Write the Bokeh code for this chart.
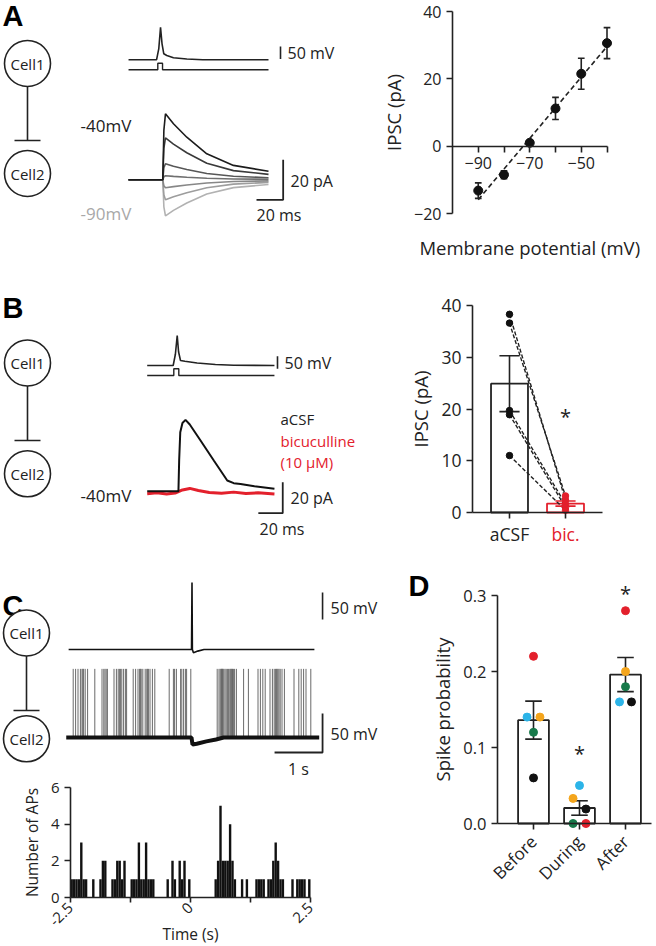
from bokeh.plotting import figure
from bokeh.models import Range1d, FixedTicker, NumeralTickFormatter
from bokeh.layouts import row, column
from bokeh.embed import file_html
from bokeh.resources import INLINE
from bokeh.core.properties import value

FONT = "Open Sans"
BOLD = "Liberation Sans"
INK = "#222222"
RED = "#e3202c"

# ---------------- data ----------------
# Panel A: I-V relation
IV_VM = [-90, -80, -70, -60, -50, -40]
IV_MEAN = [-13.2, -8.5, 1.0, 11.2, 21.5, 30.6]
IV_SEM = [2.3, 1.2, 0.6, 3.3, 4.6, 4.6]
IV_FIT_X = [-90, -40]
IV_FIT_Y = [-15.9, 29.6]

# Panel A: example traces (ms / mV / pA)
A_SPIKE_T = [-25.7, -4.7, -3.0, -1.7, -0.6, 0.75, 3, 8, 18, 30, 79.3]
A_SPIKE_V = [-65, -65, -20, 65, 0, -41, -48, -57, -62, -65, -65]
A_STEP_T = [-25.7, -3.75, -3.75, -0.2, -0.2, 79.3]
A_STEP_V = [-105, -105, -78.6, -78.6, -105, -105]
A_IPSC_AMP = [33, 21, 8, 2, -4, -10, -18]
A_IPSC_T = [-25.7, 0, 0.8, 2.0, 8, 18, 33, 53, 79.3]
A_IPSC_SHAPE = [0, 0, 0.75, 1, 0.85, 0.645, 0.394, 0.218, 0.13]
A_COLORS = ["#1c1c1c", "#3a3a3a", "#575757", "#707070", "#878787", "#9d9d9d", "#b2b2b2"]

# Panel B: example traces
B_SPIKE_T = [-25.9, -4.6, -2.8, -1.3, -0.2, 1.4, 5, 15, 30, 45, 78.4]
B_SPIKE_V = [-65, -65, -20, 55, -10, -45, -48, -55, -61, -64, -65]
B_STEP_T = [-25.9, -4.1, -4.1, 0, 0, 78.4]
B_STEP_V = [-105, -105, -78.2, -78.2, -105, -105]
B_ACSF_T = [-25.9, -0.3, 0.3, 1.2, 3, 5.5, 9, 17.8, 28.7, 39.7, 45, 50.6, 62, 78.4]
B_ACSF_I = [0, 0, 20, 38, 44, 46, 43, 32.7, 19.8, 6.9, 5.2, 4.7, 3.2, 1.6]
B_BIC_T = [-25.9, -18, -10, -3, 3, 9, 16, 25, 35, 45, 55, 65, 78.4]
B_BIC_I = [-1.6, -1.0, -1.8, -1.2, 0.8, 1.8, 0.5, -0.8, -1.3, -0.6, -1.5, -1.0, -1.8]

# Panel B: IPSC amplitude, paired cells
B_GROUPS = ["aCSF", "bic."]
B_ACSF = [38.3, 36.6, 19.7, 18.9, 11.0]
B_BIC = [2.4, 3.2, 1.6, 1.0, 0.45]
B_SEM = [5.4, 0.5]

# Panel C: traces (s / mV)
C1_T = [-2.57, -0.01, 0.0, 0.008, 0.03, 0.12, 0.25, 2.55]
C1_V = [-60, -60, 64, -60, -66, -63, -60, -60]
C2_T = [-2.62, -0.01, 0.01, 0.1, 0.3, 0.5, 0.66, 2.65]
C2_V = [-60, -60, -69, -68, -65, -62.5, -60, -60]
C2_SPIKE_PEAK = 28

# Panel C: peri-stimulus histogram, 0.05 s bins from -2.5 s
HIST_START = -2.5
HIST_BIN = 0.05
HIST_COUNTS = [1, 1, 1, 1, 3, 1, 1, 0, 0, 1,
               0, 0, 1, 2, 2, 0, 0, 1, 1, 2,
               2, 1, 2, 0, 0, 1, 1, 1, 3, 1,
               1, 3, 1, 1, 1, 0, 0, 0, 0, 0,
               1, 0, 2, 1, 0, 2, 1, 2, 0, 1,
               0, 0, 0, 0, 0, 0, 0, 0, 0, 0,
               1, 2, 5, 2, 2, 2, 4, 2, 1, 0,
               0, 1, 0, 1, 0, 0, 0, 1, 1, 1,
               1, 0, 1, 1, 2, 3, 2, 1, 1, 0,
               0, 0, 1, 0, 1, 1, 1, 1, 0, 1]
HIST_TICKS = [-2.5, -1.25, 0, 1.25, 2.5]

# Panel D: spike probability (cells: red, cyan, orange, green, black)
D_GROUPS = ["Before", "During", "After"]
D_CELL_COLORS = ["#e3202c", "#2cb4e8", "#f4a51c", "#17794a", "#111111"]
D_BEFORE = [0.22, 0.14, 0.14, 0.12, 0.06]
D_DURING = [0.0, 0.05, 0.033, 0.0, 0.019]
D_AFTER = [0.28, 0.16, 0.20, 0.18, 0.16]
D_SEM = [0.025, 0.0095, 0.0225]
D_JITTER = [[0, -0.14, 0.14, 0, 0],
            [0.14, 0, -0.14, -0.14, 0.14],
            [0, -0.13, 0, 0, 0.13]]


# ---------------- helpers ----------------
def xspan(p0, p1, anchor_px, anchor_val, ppu):
    return Range1d(anchor_val - (anchor_px - p0) / ppu, anchor_val + (p1 - anchor_px) / ppu)


def yspan(p0, p1, anchor_px, anchor_val, ppu):
    # p0 = top pixel row, p1 = bottom pixel row (page y grows downward)
    return Range1d(anchor_val - (p1 - anchor_px) / ppu, anchor_val + (anchor_px - p0) / ppu)


def base_fig(x0, x1, y0, y1, xr, yr, axes=False):
    kw = {} if axes else dict(x_axis_type=None, y_axis_type=None)
    p = figure(width=x1 - x0, height=y1 - y0, x_range=xr, y_range=yr,
               toolbar_location=None, output_backend="svg",
               min_border=0, outline_line_color=None, **kw)
    p.min_border_left = p.min_border_right = p.min_border_top = p.min_border_bottom = 0
    if axes:
        p.grid.visible = False
    return p


def canvas(x0, x1, y0, y1):
    # page-pixel canvas (y downward)
    return base_fig(x0, x1, y0, y1, Range1d(x0, x1), Range1d(y1, y0))


def x_extra(p, ppu, px0, v0):
    r = p.x_range
    return Range1d(v0 - (px0 - r.start) / ppu, v0 + (r.end - px0) / ppu)


def y_extra(p, ppu, px0, v0):
    r = p.y_range
    return Range1d(v0 - (r.start - px0) / ppu, v0 + (px0 - r.end) / ppu)


def txt(p, x, y, s, size, color=INK, align="left", font=FONT, style="normal", angle=0):
    p.text(x=[x], y=[y], text=[s], text_font=value(font),
           text_font_size=f"{size}px", text_color=color, angle=angle,
           text_align=align, text_baseline="middle", text_font_style=style)


def schematic(p, cx, cy1, cy2, bar_y, r=23):
    p.line([cx, cx], [cy1 + r, bar_y], line_color=INK, line_width=1.6)
    p.line([cx - 13, cx + 13], [bar_y, bar_y], line_color=INK, line_width=1.6)
    p.circle(x=[cx, cx], y=[cy1, cy2], radius=r, fill_color="white",
             line_color=INK, line_width=1.6)
    txt(p, cx, cy1, "Cell1", 15, align="center")
    txt(p, cx, cy2, "Cell2", 15, align="center")


def style_axes(p, tick_size, label_size):
    for ax in p.axis:
        ax.axis_line_color = INK
        ax.axis_line_width = 1.6
        ax.major_tick_line_color = INK
        ax.major_tick_line_width = 1.6
        ax.major_tick_in = 0
        ax.major_tick_out = 6
        ax.minor_tick_line_color = None
        ax.major_label_text_font = FONT
        ax.major_label_text_font_size = f"{tick_size}px"
        ax.major_label_text_color = INK
        ax.axis_label_text_font = FONT
        ax.axis_label_text_font_size = f"{label_size}px"
        ax.axis_label_text_font_style = "normal"
        ax.axis_label_text_color = INK


def errorbars(p, xs, lo, hi, cap, color=INK, width=1.6):
    p.segment(x0=xs, y0=lo, x1=xs, y1=hi, line_color=color, line_width=width)
    p.segment(x0=[x - cap for x in xs], y0=lo, x1=[x + cap for x in xs], y1=lo,
              line_color=color, line_width=width)
    p.segment(x0=[x - cap for x in xs], y0=hi, x1=[x + cap for x in xs], y1=hi,
              line_color=color, line_width=width)


def mean(v):
    return sum(v) / len(v)


# ---------------- Panel A left ----------------
a1 = canvas(0, 378, 0, 290)
a1.extra_x_ranges = {"ms": x_extra(a1, 1.333, 162.3, 0)}
a1.extra_y_ranges = {"mv": y_extra(a1, 0.25, 59.3, -65), "pa": y_extra(a1, 2.0, 179.3, 0)}
txt(a1, 2, 15, "A", 29, font=BOLD, style="bold", color="#000")
schematic(a1, 27, 63, 173, 140)
a1.line(A_SPIKE_T, A_SPIKE_V, x_range_name="ms", y_range_name="mv", line_color=INK, line_width=1.6)
a1.line(A_STEP_T, A_STEP_V, x_range_name="ms", y_range_name="mv", line_color=INK, line_width=1.4)
for amp, col in reversed(list(zip(A_IPSC_AMP, A_COLORS))):
    a1.line(A_IPSC_T, [amp * s for s in A_IPSC_SHAPE], x_range_name="ms", y_range_name="pa",
            line_color=col, line_width=1.6)
a1.line([88.3, 88.3], [-62, -12], x_range_name="ms", y_range_name="mv", line_color=INK, line_width=1.6)
a1.line([70.3, 90.3, 90.3], [-10, -10, 10], x_range_name="ms", y_range_name="pa", line_color=INK, line_width=1.8)
txt(a1, 287, 52, "50 mV", 16)
txt(a1, 290, 180, "20 pA", 16)
txt(a1, 256, 214, "20 ms", 16)
txt(a1, 80, 125, "-40mV", 17)
txt(a1, 80, 213, "-90mV", 17, color="#a8a8a8")

# ---------------- Panel A right: I-V ----------------
a2 = base_fig(378, 656, 0, 290, xspan(378, 656, 452, -100, 2.575),
              yspan(0, 290, 213, -20, 3.3667), axes=True)
a2.line(IV_FIT_X, IV_FIT_Y, line_color=INK, line_width=1.6, line_dash="5 3")
errorbars(a2, IV_VM, [m - s for m, s in zip(IV_MEAN, IV_SEM)],
          [m + s for m, s in zip(IV_MEAN, IV_SEM)], 1.3)
a2.scatter(IV_VM, IV_MEAN, size=9, color="#111111")
a2.xaxis.fixed_location = 0
a2.xaxis.bounds = (-100, -40)
a2.xaxis.ticker = FixedTicker(ticks=IV_VM)
a2.xaxis.major_label_overrides = {-80: "", -60: "", -40: ""}
a2.yaxis.fixed_location = -100
a2.yaxis.bounds = (-20, 40)
a2.yaxis.ticker = FixedTicker(ticks=[-20, 0, 20, 40])
a2.yaxis.axis_label = "IPSC (pA)"
style_axes(a2, 16, 18.5)
txt(a2, -70, -30.1, "Membrane potential (mV)", 18.5, align="center")

# ---------------- Panel B left ----------------
b1 = canvas(0, 378, 290, 560)
b1.extra_x_ranges = {"ms": x_extra(b1, 1.22, 178.3, 0)}
b1.extra_y_ranges = {"mv": y_extra(b1, 0.25, 365, -65), "pa": y_extra(b1, 1.55, 490.7, 0)}
txt(b1, 2, 307, "B", 29, font=BOLD, style="bold", color="#000")
schematic(b1, 27, 362.5, 473.3, 440)
b1.line(B_SPIKE_T, B_SPIKE_V, x_range_name="ms", y_range_name="mv", line_color=INK, line_width=1.6)
b1.line(B_STEP_T, B_STEP_V, x_range_name="ms", y_range_name="mv", line_color=INK, line_width=1.4)
b1.line(B_BIC_T, B_BIC_I, x_range_name="ms", y_range_name="pa", line_color=RED, line_width=3)
b1.line(B_ACSF_T, B_ACSF_I, x_range_name="ms", y_range_name="pa", line_color="#111111", line_width=2)
b1.line([80.9, 80.9], [-78, -28], x_range_name="ms", y_range_name="mv", line_color=INK, line_width=1.6)
b1.line([65.2, 85.2, 85.2], [-14.2, -14.2, 5.8], x_range_name="ms", y_range_name="pa", line_color=INK, line_width=1.8)
txt(b1, 284, 362, "50 mV", 16)
txt(b1, 290, 497, "20 pA", 16)
txt(b1, 259, 528, "20 ms", 16)
txt(b1, 80, 495, "-40mV", 17)
txt(b1, 280, 418, "aCSF", 15)
txt(b1, 280, 440, "bicuculline", 15, color=RED)
txt(b1, 280, 461, "(10 \u00b5M)", 15, color=RED)

# ---------------- Panel B right: bars ----------------
b2 = base_fig(378, 656, 290, 560, xspan(378, 656, 509, 1, 56),
              yspan(290, 560, 512, 0, 5.175), axes=True)
b_means = [mean(B_ACSF), mean(B_BIC)]
b2.vbar(x=[1], top=[b_means[0]], bottom=0, width=0.66, fill_color="white",
        line_color=INK, line_width=1.8)
b2.vbar(x=[2], top=[b_means[1]], bottom=0, width=0.66, fill_color="white",
        line_color=RED, line_width=1.8)
for a, b in zip(B_ACSF, B_BIC):
    b2.line([1, 2], [a, b], line_color=INK, line_width=1.4, line_dash="4 2")
errorbars(b2, [1], [b_means[0] - B_SEM[0]], [b_means[0] + B_SEM[0]], 0.18)
errorbars(b2, [2], [b_means[1] - B_SEM[1]], [b_means[1] + B_SEM[1]], 0.18, color=RED)
b2.scatter([1] * len(B_ACSF), B_ACSF, size=6.5, color="#111111")
b2.scatter([2] * len(B_BIC), B_BIC, size=6.5, color=RED)
b2.xaxis.fixed_location = 0
b2.xaxis.bounds = (0.339, 2.661)
b2.xaxis.ticker = FixedTicker(ticks=[1, 2])
b2.xaxis.major_label_overrides = {1: " ", 2: " "}
b2.yaxis.fixed_location = 0.339
b2.yaxis.ticker = FixedTicker(ticks=[0, 10, 20, 30, 40])
b2.yaxis.bounds = (0, 40)
b2.yaxis.axis_label = "IPSC (pA)"
style_axes(b2, 17.5, 18.5)
txt(b2, 1, -4.1, B_GROUPS[0], 17.5, align="center")
txt(b2, 2, -4.1, B_GROUPS[1], 17.5, color=RED, align="center")
txt(b2, 2, 18.5, "*", 20, align="center")

# ---------------- Panel C traces ----------------
c1 = canvas(0, 400, 560, 778)
c1.extra_x_ranges = {"sec": x_extra(c1, 48, 191.5, 0)}
c1.extra_y_ranges = {"v1": y_extra(c1, 0.54, 649, -60), "v2": y_extra(c1, 0.78, 737, -60)}
txt(c1, 2, 605, "C", 29, font=BOLD, style="bold", color="#000")
schematic(c1, 26, 632.5, 738.3, 710)
spike_t = []
for i, c in enumerate(HIST_COUNTS):
    for k in range(c):
        spike_t.append(HIST_START + HIST_BIN * (i + (k + 0.5) / c))
c1.segment(x0=spike_t, y0=[-60] * len(spike_t), x1=spike_t, y1=[C2_SPIKE_PEAK] * len(spike_t),
           x_range_name="sec", y_range_name="v2", line_color="#6a6a6a", line_width=1)
c1.line(C2_T, C2_V, x_range_name="sec", y_range_name="v2", line_color="#111111", line_width=4)
c1.line(C1_T, C1_V, x_range_name="sec", y_range_name="v1", line_color="#111111", line_width=1.6)
c1.line([2.72, 2.72], [-4.4, 45.6], x_range_name="sec", y_range_name="v1", line_color=INK, line_width=1.6)
c1.line([1.72, 2.72, 2.72], [-79.2, -79.2, -29.2], x_range_name="sec", y_range_name="v2",
        line_color=INK, line_width=1.8)
txt(c1, 330, 607, "50 mV", 16)
txt(c1, 330, 733, "50 mV", 16)
txt(c1, 298, 768, "1 s", 16, align="center")

# ---------------- Panel C histogram ----------------
c2 = base_fig(0, 400, 778, 946, xspan(0, 400, 70, -2.5, 48),
              yspan(778, 946, 897, 0, 18.33), axes=True)
edges = [HIST_START + HIST_BIN * i for i in range(len(HIST_COUNTS) + 1)]
c2.quad(left=edges[:-1], right=edges[1:], bottom=0, top=HIST_COUNTS,
        fill_color="#111111", line_color=None)
c2.xaxis.fixed_location = 0
c2.xaxis.bounds = (-2.5, 2.5)
c2.xaxis.ticker = FixedTicker(ticks=HIST_TICKS)
c2.xaxis.major_label_overrides = {-2.5: "-2.5", -1.25: "", 0: "0", 1.25: "", 2.5: "2.5"}
c2.xaxis.major_label_orientation = 0.785
c2.yaxis.fixed_location = -2.5
c2.yaxis.bounds = (0, 6)
c2.yaxis.ticker = FixedTicker(ticks=[0, 2, 4, 6])
c2.yaxis.axis_label = "Number of APs"
style_axes(c2, 15, 15.5)
c2.xaxis.major_tick_out = 5
c2.xaxis.major_label_standoff = 3
txt(c2, 0, -1.964, "Time (s)", 15.5, align="center")

# ---------------- Panel D ----------------
d = base_fig(400, 656, 560, 946, xspan(400, 656, 533, 1, 46),
             yspan(560, 946, 823, 0, 760), axes=True)
d_sets = [D_BEFORE, D_DURING, D_AFTER]
d_means = [mean(s) for s in d_sets]
d.vbar(x=[1, 2, 3], top=d_means, bottom=0, width=0.67, fill_color="white",
       line_color=INK, line_width=1.8)
errorbars(d, [1, 2, 3], [m - s for m, s in zip(d_means, D_SEM)],
          [m + s for m, s in zip(d_means, D_SEM)], 0.18)
for g, vals in enumerate(d_sets):
    xs = [g + 1 + j for j in D_JITTER[g]]
    d.scatter(xs, vals, size=8, color=D_CELL_COLORS)
d.xaxis.fixed_location = 0
d.xaxis.bounds = (0.217, 3.57)
d.xaxis.ticker = FixedTicker(ticks=[1, 2, 3])
d.xaxis.major_label_overrides = {1: D_GROUPS[0], 2: D_GROUPS[1], 3: D_GROUPS[2]}
d.xaxis.major_label_orientation = 0.785
d.yaxis.fixed_location = 0.217
d.yaxis.bounds = (0, 0.3)
d.yaxis.ticker = FixedTicker(ticks=[0, 0.1, 0.2, 0.3])
d.yaxis.formatter = NumeralTickFormatter(format="0.0")
d.yaxis.axis_label = "Spike probability"
style_axes(d, 16.5, 18.5)
d.xaxis.major_label_standoff = 9
d.xaxis.major_label_text_font_size = "17px"
txt(d, 2, 0.092, "*", 20, align="center")
txt(d, 3, 0.302, "*", 20, align="center")
txt(d, -1.717, 0.313, "D", 29, font=BOLD, style="bold", color="#000")

layout = column(row(a1, a2), row(b1, b2), row(column(c1, c2), d))
open("out.html", "w").write(file_html(layout, INLINE))
